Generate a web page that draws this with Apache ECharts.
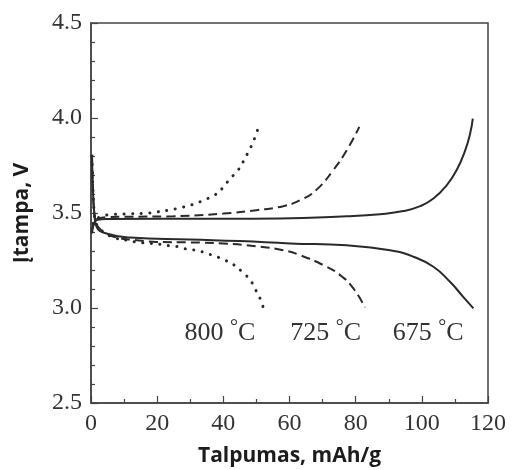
<!DOCTYPE html>
<html>
<head>
<meta charset="utf-8">
<script src="https://cdn.jsdelivr.net/npm/echarts@6/dist/echarts.min.js"></script>
<style>
  html, body { margin: 0; padding: 0; background: #fff; }
  #chart { width: 513px; height: 470px; }
</style>
</head>
<body>
<div id="chart"></div>
<script>
// Axis ticks
const xTicks = [0, 20, 40, 60, 80, 100, 120];
const yTicks = [2.5, 3.0, 3.5, 4.0, 4.5];

// Synthesis temperatures, one curve pair per temperature
const temperatures = ['800', '725', '675'];

// [capacity mAh/g, voltage V]
const charge800 = [[0.3,3.40],[1,3.46],[3,3.48],[5,3.49],[10,3.495],[17.8,3.50],[20.3,3.506],[23.4,3.515],[26.1,3.524],[28.9,3.536],[31.7,3.55],[34.3,3.57],[37,3.59],[39.7,3.63],[42,3.68],[44.2,3.72],[46,3.77],[47.4,3.816],[48.8,3.865],[49.8,3.91],[50.8,3.96]];
const discharge800 = [[0.3,3.80],[0.6,3.62],[1,3.50],[1.5,3.45],[2.5,3.42],[4.7,3.39],[7,3.37],[10.8,3.357],[13.3,3.348],[15.8,3.343],[18.3,3.34],[21.4,3.334],[23.9,3.327],[26.4,3.322],[29.4,3.308],[31.9,3.304],[35,3.287],[37.5,3.273],[40.5,3.252],[43,3.229],[45.7,3.19],[48.1,3.147],[49.8,3.094],[51.1,3.05],[52.1,3.0]];
const charge725 = [[0.3,3.40],[1,3.45],[2,3.47],[5,3.478],[9.8,3.48],[24.9,3.483],[40,3.497],[50,3.515],[58.1,3.536],[63.2,3.567],[68.2,3.623],[73.2,3.725],[77.3,3.83],[81.1,3.953]];
const discharge725 = [[0.3,3.80],[0.6,3.62],[1,3.50],[1.5,3.45],[2.5,3.42],[4.7,3.39],[8,3.37],[12,3.36],[19.8,3.348],[30,3.345],[40,3.34],[50,3.325],[58.1,3.304],[63.2,3.278],[70.2,3.226],[75.3,3.173],[79.3,3.103],[82.8,3.003]];
const charge675 = [[0.3,3.40],[1,3.45],[2,3.465],[5,3.468],[20,3.47],[40,3.47],[57.1,3.471],[77.3,3.483],[87.4,3.494],[94.4,3.51],[99.5,3.536],[103.5,3.576],[107.5,3.646],[110.5,3.725],[113.1,3.83],[114.6,3.918],[115.4,3.997]];
const discharge675 = [[0.3,3.80],[0.6,3.62],[1,3.50],[1.7,3.427],[4.7,3.392],[11.8,3.371],[29.9,3.36],[45,3.352],[60.2,3.34],[77.3,3.33],[90.4,3.304],[97.4,3.27],[103.5,3.217],[108.5,3.138],[112.5,3.059],[115.6,2.998]];

// Where each temperature tag sits, in data coordinates (capacity, voltage)
const tagAnchors = [[39, 2.87], [70.9, 2.87], [101.9, 2.87]];

const ink = '#2a2a2a';
const serif = '"Liberation Serif", "DejaVu Serif", serif';
const sans = '"Open Sans", "Noto Sans", sans-serif';

const dotted = { type: [0.1, 8.5], cap: 'round', width: 3, color: ink };
const dashed = { type: [9, 5], width: 2, color: ink };
const solid = { type: 'solid', width: 2, color: ink };

function curve(data, style) {
  return {
    type: 'line',
    data: data,
    showSymbol: false,
    smooth: 0.5,
    lineStyle: style,
    silent: true,
    animation: false
  };
}

const chart = echarts.init(document.getElementById('chart'), null, { renderer: 'canvas' });

chart.setOption({
  animation: false,
  grid: {
    left: 91, right: 25, top: 23, bottom: 67,
    containLabel: false,
    outerBoundsMode: 'none',
    show: true, borderColor: '#444', borderWidth: 1.5, backgroundColor: 'transparent'
  },
  xAxis: {
    type: 'value',
    min: xTicks[0], max: xTicks[xTicks.length - 1], interval: 20,
    name: 'Talpumas, mAh/g',
    nameLocation: 'middle',
    nameGap: 43,
    nameTextStyle: { fontFamily: sans, fontWeight: 'bold', fontSize: 21, color: '#1c1c1c' },
    axisLine: { show: true, lineStyle: { color: '#444', width: 1.5 } },
    axisTick: { show: true, inside: true, length: 7, lineStyle: { color: '#444', width: 1.2 } },
    minorTick: { show: true, splitNumber: 2, length: 4, lineStyle: { color: '#444', width: 1.2 } },
    axisLabel: { fontFamily: serif, fontSize: 24, color: '#333', margin: 9 },
    splitLine: { show: false }
  },
  yAxis: {
    type: 'value',
    min: yTicks[0], max: yTicks[yTicks.length - 1], interval: 0.5,
    name: 'Įtampa, V',
    nameLocation: 'middle',
    nameGap: 58,
    nameRotate: 90,
    nameTextStyle: { fontFamily: sans, fontWeight: 'bold', fontSize: 21, color: '#1c1c1c' },
    axisLine: { show: true, lineStyle: { color: '#444', width: 1.5 } },
    axisTick: { show: true, inside: true, length: 7, lineStyle: { color: '#444', width: 1.2 } },
    minorTick: { show: true, splitNumber: 5, length: 4, lineStyle: { color: '#444', width: 1.2 } },
    axisLabel: { fontFamily: serif, fontSize: 24, color: '#333', margin: 9, formatter: v => v.toFixed(1) },
    splitLine: { show: false }
  },
  series: [
    curve(charge800, dotted),
    curve(discharge800, dotted),
    curve(charge725, dashed),
    curve(discharge725, dashed),
    curve(charge675, solid),
    curve(discharge675, solid)
  ]
});

// Temperature tags placed through the axes' own scales
const tags = temperatures.map((t, i) => {
  const p = chart.convertToPixel({ gridIndex: 0 }, tagAnchors[i]);
  return {
    type: 'text',
    x: p[0], y: p[1],
    silent: true,
    style: {
      text: '{n|' + t + ' }{d|°}{n|C}',
      align: 'center',
      verticalAlign: 'middle',
      rich: {
        n: { fontFamily: serif, fontSize: 26, lineHeight: 30, fill: '#333' },
        d: { fontFamily: serif, fontSize: 20, lineHeight: 30, fill: '#333', verticalAlign: 'top', padding: [0, 0, 14, 0] }
      }
    }
  };
});
chart.setOption({ graphic: tags });
</script>
</body>
</html>
